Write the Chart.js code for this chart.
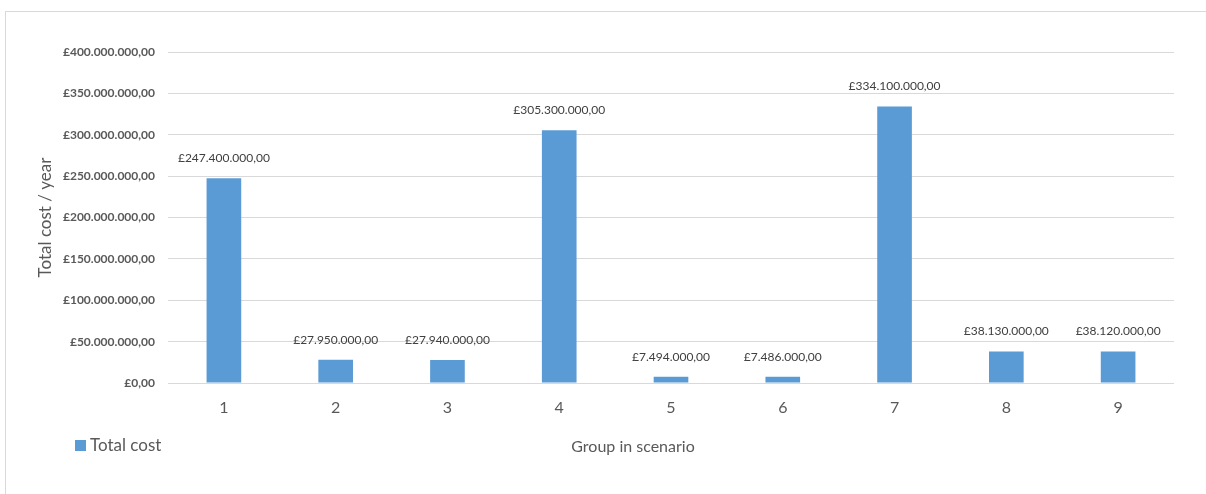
<!DOCTYPE html>
<html>
<head>
<meta charset="utf-8">
<script src="https://cdn.jsdelivr.net/npm/chart.js@4/dist/chart.umd.min.js"></script>
<style>
  html, body { margin: 0; padding: 0; background: #fff; overflow: hidden; }
  #wrap { position: relative; width: 1206px; height: 494px; }
  #frame { position: absolute; left: 5px; top: 11px; width: 1300px; height: 600px; border: 1px solid #d9d9d9; box-sizing: border-box; }
  canvas { position: absolute; left: 0; top: 0; }
</style>
</head>
<body>
<div id="wrap">
  <div id="frame"></div>
  <canvas id="c" width="1206" height="494"></canvas>
</div>
<script>
const categories = ['1', '2', '3', '4', '5', '6', '7', '8', '9'];
const totalCost = [247400000, 27950000, 27940000, 305300000, 7494000, 7486000, 334100000, 38130000, 38120000];
const seriesLabel = 'Total cost';
const yAxisTitle = 'Total cost / year';
const xAxisTitle = 'Group in scenario';

const FONT = 'Lato, "Open Sans", "DejaVu Sans", sans-serif';
const TXT = '#595959';

function fmt(v) {
  const parts = Number(v).toFixed(2).split('.');
  return '£' + parts[0].replace(/\B(?=(\d{3})+(?!\d))/g, '.') + ',' + parts[1];
}

const extras = {
  id: 'extras',
  afterDatasetsDraw(chart) {
    const ctx = chart.ctx;
    const meta = chart.getDatasetMeta(0);
    const ds = chart.data.datasets[0];
    ctx.save();
    ctx.font = '12px ' + FONT;
    ctx.fillStyle = '#404040';
    ctx.textAlign = 'center';
    ctx.textBaseline = 'middle';
    meta.data.forEach((bar, i) => {
      ctx.fillText(fmt(ds.data[i]), bar.x, bar.y - 20);
    });
    ctx.restore();
  },
  afterDraw(chart) {
    const ctx = chart.ctx;
    const ds = chart.data.datasets[0];
    ctx.save();
    // legend
    ctx.fillStyle = ds.backgroundColor;
    ctx.fillRect(75, 440, 11, 11);
    ctx.font = '17px ' + FONT;
    ctx.fillStyle = TXT;
    ctx.textAlign = 'left';
    ctx.textBaseline = 'middle';
    ctx.fillText(ds.label, 90, 446);
    // x-axis title
    ctx.font = '16px ' + FONT;
    ctx.textAlign = 'center';
    ctx.fillText(xAxisTitle, 633, 447);
    ctx.restore();
  }
};

new Chart(document.getElementById('c'), {
  type: 'bar',
  data: {
    labels: categories,
    datasets: [{
      label: seriesLabel,
      data: totalCost,
      backgroundColor: '#5b9bd5',
      borderWidth: 0,
      barPercentage: 0.31,
      categoryPercentage: 1.0
    }]
  },
  options: {
    responsive: false,
    animation: false,
    devicePixelRatio: 1,
    layout: { padding: { left: 0, right: 32, top: 52, bottom: 0 } },
    plugins: { legend: { display: false }, tooltip: { enabled: false } },
    scales: {
      x: {
        grid: { display: false, drawTicks: false },
        border: { display: false },
        ticks: { color: TXT, font: { family: FONT, size: 16 }, padding: 15 },
        afterFit(scale) { scale.height = 111; }
      },
      y: {
        min: 0,
        max: 400000000,
        grid: { color: '#d9d9d9', lineWidth: 1, drawTicks: false },
        border: { display: false },
        ticks: {
          stepSize: 50000000,
          color: TXT,
          padding: 13,
          font: { family: FONT, size: 12, weight: 'bold' },
          callback: (v) => fmt(v)
        },
        title: {
          display: true,
          text: yAxisTitle,
          color: TXT,
          font: { family: FONT, size: 17 },
          padding: { top: 35, bottom: 0 }
        },
        afterFit(scale) { scale.width = 168; }
      }
    }
  },
  plugins: [extras]
});
</script>
</body>
</html>
